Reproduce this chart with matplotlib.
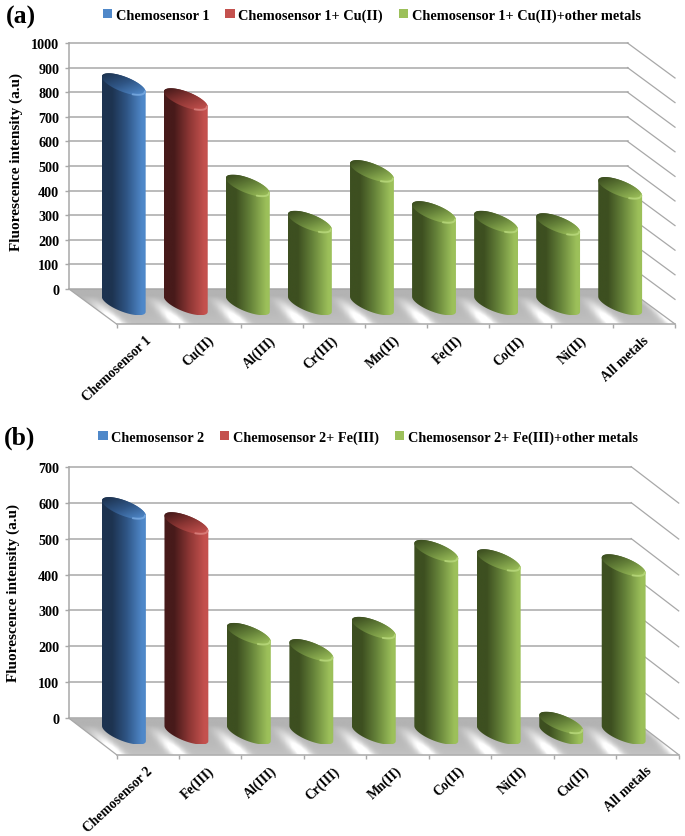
import numpy as np
import matplotlib
matplotlib.use('Agg')
import matplotlib.pyplot as plt
from matplotlib.colors import LinearSegmentedColormap
from matplotlib.patches import Patch, Polygon

W, H = 685, 837

# data
categories_a = ['Chemosensor 1', 'Cu(II)', 'Al(III)', 'Cr(III)', 'Mn(II)', 'Fe(II)', 'Co(II)', 'Ni(II)', 'All metals']
values_a = [894, 833, 482, 335, 541, 374, 335, 325, 472]
series_a = [0, 1, 2, 2, 2, 2, 2, 2, 2]
legend_a = ['Chemosensor 1', 'Chemosensor 1+ Cu(II)', 'Chemosensor 1+ Cu(II)+other metals']
yticks_a = list(range(0, 1001, 100))

categories_b = ['Chemosensor 2', 'Fe(III)', 'Al(III)', 'Cr(III)', 'Mn(II)', 'Co(II)', 'Ni(II)', 'Cu(II)', 'All metals']
values_b = [627, 585, 277, 232, 294, 508, 482, 30, 468]
series_b = [0, 1, 2, 2, 2, 2, 2, 2, 2]
legend_b = ['Chemosensor 2', 'Chemosensor 2+ Fe(III)', 'Chemosensor 2+ Fe(III)+other metals']
yticks_b = list(range(0, 701, 100))

# dark side, middle, light side of each series
shades = [('#1d3350', '#2f5585', '#4f88c9'),
          ('#471a1a', '#8a3533', '#c4514e'),
          ('#3d4f20', '#66833a', '#9cc05a')]
rim_colors = ['#7fb0e6', '#e08a86', '#bcdc80']
LINE = '#a8a8a8'
SERIF = 'Liberation Serif'

plt.rcParams['font.family'] = SERIF
plt.rcParams['font.weight'] = 'bold'


def shade_map(k):
    dark, mid, light = shades[k]
    return LinearSegmentedColormap.from_list('s', [(0, dark), (0.22, dark), (0.55, mid), (0.9, light), (1, light)])


def draw_panel(left, right, top, wall0, front, cats, vals, series, ymax_ticks):
    ax = fig.add_axes([left / W, 1 - front / H, (right - left) / W, (front - top) / H])
    ymax = ymax_ticks[-1]
    depth_px = 47.5
    sx = (right - left - depth_px) / len(cats)
    sy = (wall0 - top) / ymax
    xmin = -depth_px / sx
    ymin = -(front - wall0) / sy
    xd = depth_px / sx
    yd = (front - wall0) / sy

    # floor with the pale stripes between the bars
    nx, ny = 500, 120
    gx, gy = np.meshgrid(np.linspace(xmin, len(cats), nx), np.linspace(ymin, 0, ny))
    d = (gy - ymin) / (0 - ymin)
    u = gx + d * xd * 0.73
    dist = np.abs(u - np.round(u))
    floor = 0.70 + 0.06 * (1 - d) ** 2 + 0.34 * np.exp(-(dist / 0.13) ** 2) * np.clip(1.3 - 1.6 * d, 0, 1)
    floor = np.clip(floor, 0, 1)
    edge = np.clip((gx + d * xd - (len(cats) - 0.1)) / 0.2, 0, 1)
    floor = floor + (1 - floor) * edge * 0.6
    im = ax.imshow(floor, extent=(xmin, len(cats), ymin, 0), origin='lower', cmap='gray',
                   vmin=0, vmax=1, aspect='auto', zorder=1)
    poly = Polygon([(xmin, 0), (len(cats) - xd, 0), (len(cats), ymin), (0, ymin)],
                   closed=True, facecolor='none', edgecolor='none', transform=ax.transData)
    ax.add_patch(poly)
    im.set_clip_path(poly)

    # back wall and right side lines
    for v in ymax_ticks:
        ax.plot([xmin, len(cats) - xd], [v, v], color=LINE, lw=1.1, zorder=2, clip_on=False)
        ax.plot([len(cats) - xd, len(cats)], [v, v - yd], color=LINE, lw=0.9, zorder=2, clip_on=False)
    ax.plot([xmin, 0], [0, ymin], color=LINE, lw=0.9, zorder=2, clip_on=False)

    # cylinders
    a = 16 / sx
    b = 15 / sx
    c = 11 / sy
    phi = np.arctan2(15, 16)
    base = -15.2 / sy
    half = 22.2 / sx
    for i, (v, k) in enumerate(zip(vals, series)):
        cx = i + 0.5 - 23.8 / sx
        yb = base
        yt = base + v
        tl = np.linspace(np.pi - phi, 2 * np.pi - phi, 60)
        tu = np.linspace(-phi, np.pi - phi, 60)
        xs = np.r_[cx + a * np.cos(tl) - b * np.sin(tl), cx + a * np.cos(tu) - b * np.sin(tu)]
        ys = np.r_[yb + c * np.sin(tl), yt + c * np.sin(tu)]
        body = Polygon(np.c_[xs, ys], closed=True, facecolor='none', edgecolor='none')
        ax.add_patch(body)
        cmap = shade_map(k)
        g = np.linspace(0, 1, 128).reshape(1, -1)
        b_im = ax.imshow(g, extent=(cx - half, cx + half, yb - c, yt + c), cmap=cmap, aspect='auto',
                         vmin=0, vmax=1, zorder=3)
        b_im.set_clip_path(body)

        # top face, dark at upper left and light at lower right
        t = np.linspace(0, 2 * np.pi, 120)
        ex = cx + a * np.cos(t) - b * np.sin(t)
        ey = yt + c * np.sin(t)
        face = Polygon(np.c_[ex, ey], closed=True, facecolor='none', edgecolor='none')
        ax.add_patch(face)
        px, py = np.meshgrid(np.linspace(-1, 1, 60), np.linspace(-1, 1, 40))
        f = np.clip(0.56 + 0.16 * px - 0.22 * py, 0, 1)
        f_im = ax.imshow(f, extent=(cx - half, cx + half, yt - c, yt + c), origin='lower', cmap=cmap,
                         aspect='auto', vmin=0, vmax=1, zorder=4)
        f_im.set_clip_path(face)
        tr = np.linspace(1.4 * np.pi, 2 * np.pi - phi, 30)
        ax.plot(cx + 0.96 * (a * np.cos(tr) - b * np.sin(tr)), yt + 0.96 * c * np.sin(tr),
                color=rim_colors[k], lw=1.4, alpha=0.75, zorder=5, solid_capstyle='round')

    ax.set_xlim(xmin, len(cats))
    ax.set_ylim(ymin, ymax)
    ax.patch.set_visible(False)
    for s in ['top', 'right']:
        ax.spines[s].set_visible(False)
    ax.spines['left'].set_bounds(0, ymax)
    ax.spines['bottom'].set_bounds(0, len(cats))
    for s in ['left', 'bottom']:
        ax.spines[s].set_color(LINE)
        ax.spines[s].set_linewidth(1.1)
    ax.set_yticks(ymax_ticks)
    ax.set_xticks(range(len(cats) + 1))
    ax.set_xticklabels([])
    ax.set_xticks(np.arange(len(cats)) + 0.54, minor=True)
    ax.set_xticklabels(cats, minor=True, rotation=43, ha='right', va='center',
                       rotation_mode='anchor', fontsize=9.8, fontweight='bold')
    ax.tick_params(axis='x', which='major', length=3, color=LINE, width=1)
    ax.tick_params(axis='x', which='minor', length=0, pad=10)
    ax.tick_params(axis='y', length=3, color=LINE, width=1, pad=4, labelsize=10.2)
    return ax


fig = plt.figure(figsize=(W / 100, H / 100), dpi=100)

ax_a = draw_panel(69, 675, 44, 290, 325, categories_a, values_a, series_a, yticks_a)
ax_b = draw_panel(69, 678.7, 467.7, 719.3, 755.7, categories_b, values_b, series_b, yticks_b)

fig.text(16 / W, 1 - 162 / H, 'Fluorescence intensity (a.u)', rotation=90, ha='center', va='center', fontsize=11)
fig.text(13 / W, 1 - 593 / H, 'Fluorescence intensity (a.u)', rotation=90, ha='center', va='center', fontsize=11)
fig.text(6 / W, 1 - 17 / H, '(a)', ha='left', va='center', fontsize=18.5)
fig.text(4 / W, 1 - 438 / H, '(b)', ha='left', va='center', fontsize=18.5)

for labels, x, y, size in [(legend_a, 372, 16, 10.4), (legend_b, 368, 438, 10.3)]:
    handles = [Patch(facecolor=shades[k][2], edgecolor='none') for k in range(3)]
    fig.legend(handles, labels, loc='center', bbox_to_anchor=(x / W, 1 - y / H), ncol=3, frameon=False,
               fontsize=size, handlelength=0.65, handleheight=0.65, handletextpad=0.25, columnspacing=1.1,
               borderpad=0, borderaxespad=0)

fig.savefig('out.png', dpi=100)
